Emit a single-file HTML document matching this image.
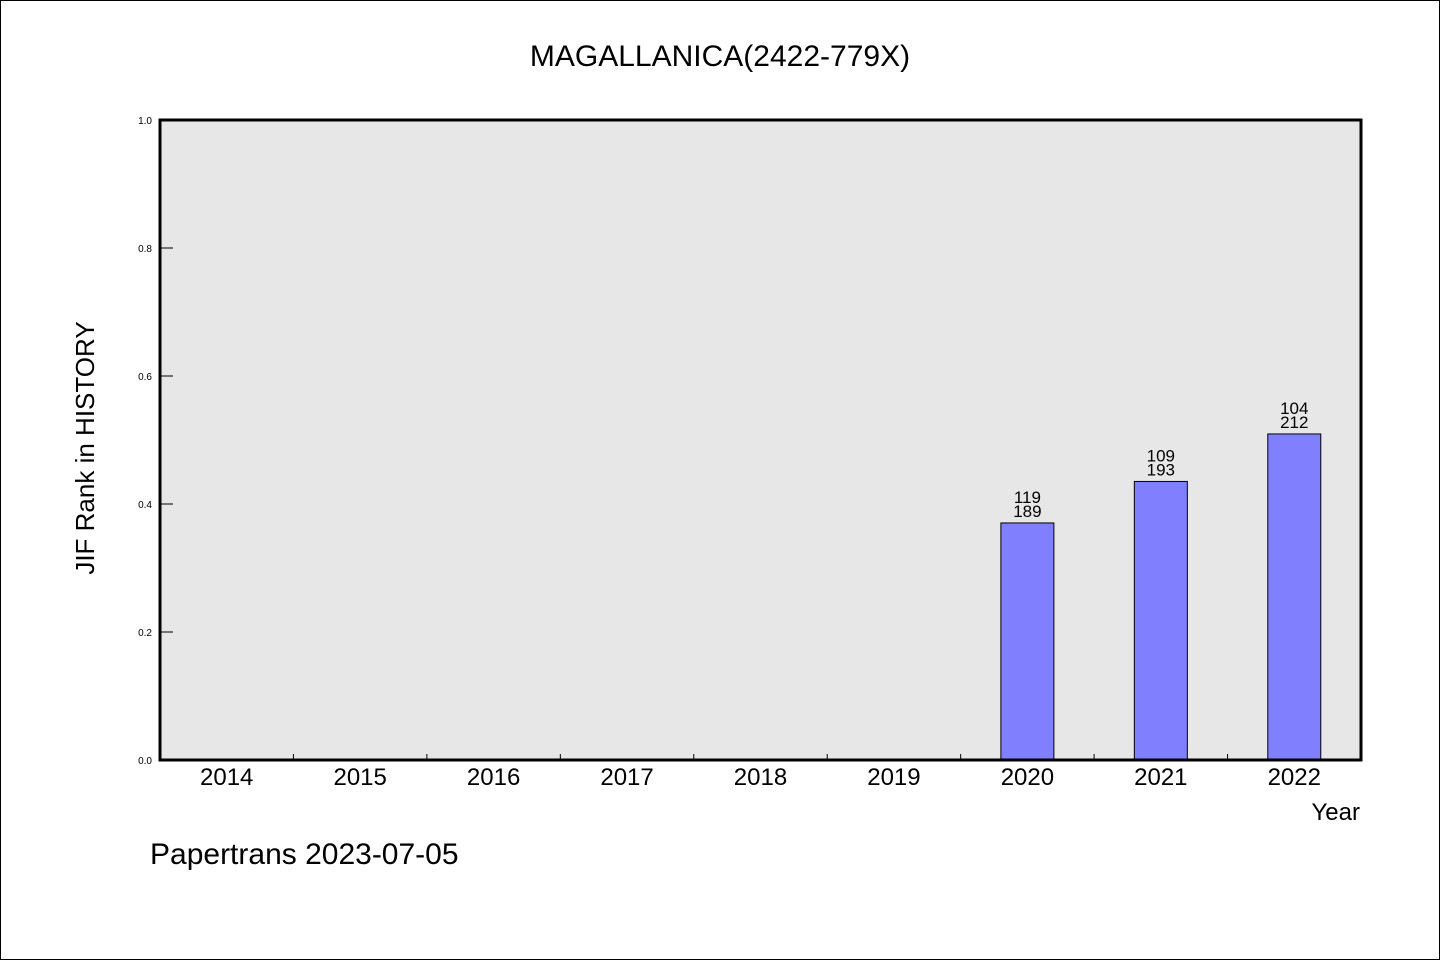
<!DOCTYPE html>
<html><head><meta charset="utf-8"><style>
html,body{margin:0;padding:0;background:#fff}
svg{display:block}
text{font-family:"WenQuanYi Zen Hei","Liberation Sans",sans-serif;fill:#000}
</style></head><body>
<svg width="1440" height="960">
<rect x="0.5" y="0.5" width="1439" height="959" fill="#fff" stroke="#000"/>
<text x="720" y="66" font-size="30" text-anchor="middle">MAGALLANICA(2422-779X)</text>
<rect x="160" y="120" width="1201" height="640" fill="#e7e7e7"/>
<g id="g"></g>
<rect x="160" y="120" width="1201" height="640" fill="none" stroke="#000" stroke-width="3"/>
<text x="94" y="448" font-size="26" text-anchor="middle" transform="rotate(-90 94 448)">JIF Rank in HISTORY</text>
<text x="1360" y="820" font-size="24" text-anchor="end">Year</text>
<text x="150" y="864" font-size="30">Papertrans 2023-07-05</text>
</svg>
<script>
const years=["2014","2015","2016","2017","2018","2019","2020","2021","2022"];
const rankTop=[null,null,null,null,null,null,119,109,104];
const rankTotal=[null,null,null,null,null,null,189,193,212];
const yTicks=[0,0.2,0.4,0.6,0.8,1.0];
const x0=160,x1=1361,y0=760,y1=120;
const bw=(x1-x0)/years.length;
const X=i=>x0+bw*(i+0.5);
const Y=v=>y0-(y0-y1)*v;
const NS="http://www.w3.org/2000/svg";
const g=document.getElementById('g');
function mk(t,a,txt){const e=document.createElementNS(NS,t);for(const k in a)e.setAttribute(k,a[k]);if(txt!=null)e.textContent=txt;g.appendChild(e);return e;}
yTicks.forEach(v=>{
 const l=mk('line',{x1:160,x2:173,y1:Y(v),y2:Y(v),stroke:'#000','stroke-width':1});
 
 
 const t=mk('text',{x:152,y:Y(v)+4,'font-size':10,'text-anchor':'end'},v.toFixed(1));
 
 
});
years.forEach((yr,i)=>{
 if(i>0){const l=mk('line',{x1:x0+bw*i,x2:x0+bw*i,y1:754,y2:760,stroke:'#000','stroke-width':1});
 
 }
 const t=mk('text',{x:X(i),y:785,'font-size':24,'text-anchor':'middle'},yr);
 
 
 if(rankTop[i]!=null){
  const v=1-rankTop[i]/rankTotal[i];
  const b=mk('rect',{x:X(i)-26.5,y:Y(v),width:53,height:y0-Y(v),fill:'#8080ff',stroke:'#000','stroke-width':1});
  
  
  const a=mk('text',{x:X(i),y:Y(v)-20,'font-size':17,'text-anchor':'middle'},String(rankTop[i]));
  
  
  const c=mk('text',{x:X(i),y:Y(v)-6,'font-size':17,'text-anchor':'middle'},String(rankTotal[i]));
  
  
 }
});
</script>
</body></html>
